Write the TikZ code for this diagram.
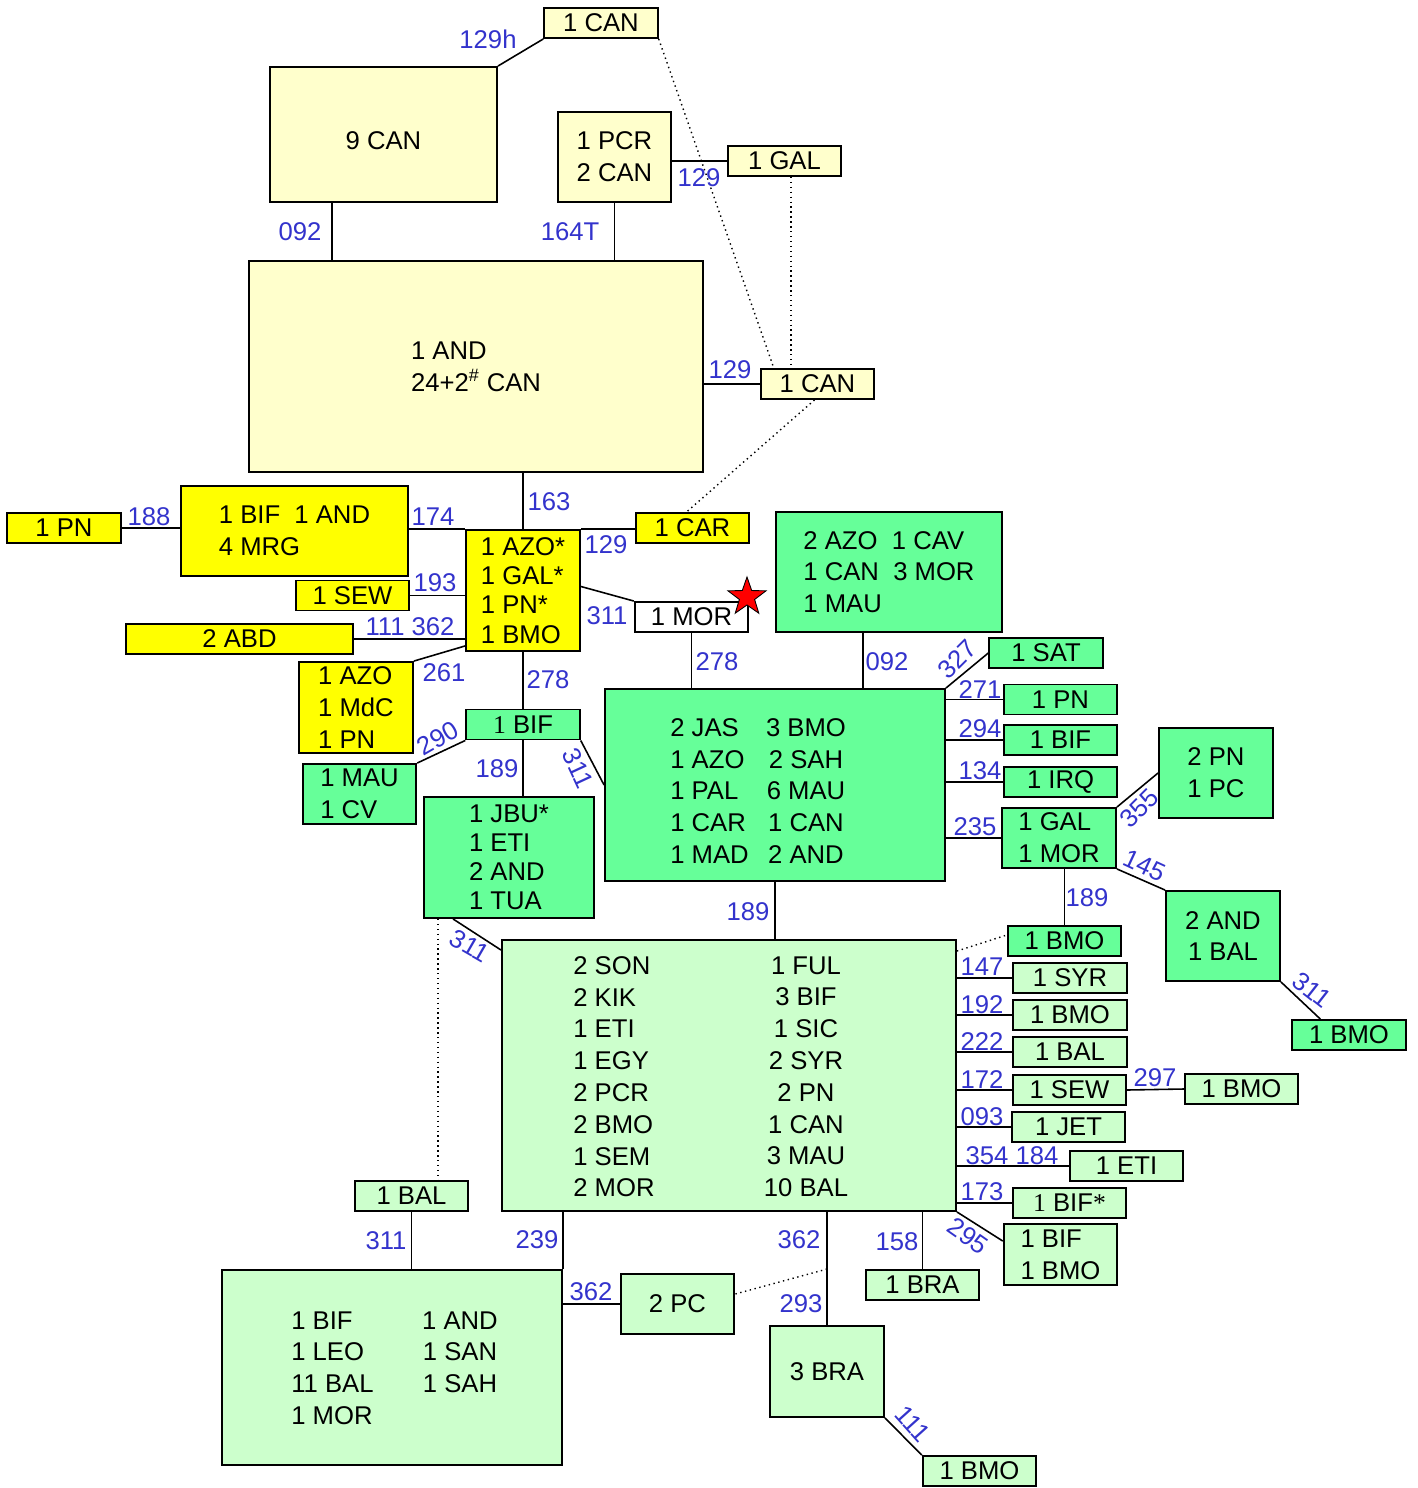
\documentclass[tikz,border=0pt]{standalone}
\usepackage{fontspec}
\setmainfont{Liberation Sans}
\newfontfamily\serone{Liberation Serif}
\usetikzlibrary{calc,shapes.geometric}
\definecolor{paleyellow}{HTML}{FFFFCC}
\definecolor{brightyellow}{HTML}{FFFF00}
\definecolor{midgreen}{HTML}{66FF99}
\definecolor{palegreen}{HTML}{CCFFCC}
\definecolor{numblue}{HTML}{3333CC}
\newcommand{\boxfont}{\fontsize{14.6pt}{18.1pt}\selectfont}
\newcommand{\tightfont}{\fontsize{14.6pt}{16.6pt}\selectfont}
\tikzset{
  box/.style={draw, line width=1.1pt, inner sep=0pt, align=center, font=\boxfont},
  pybox/.style={box, fill=paleyellow},
  ybox/.style={box, fill=brightyellow},
  wbox/.style={box, fill=white},
  gbox/.style={box, fill=midgreen},
  pgbox/.style={box, fill=palegreen},
  sm/.style={minimum width=2.27cm, minimum height=0.6cm},
  txt/.style={inner sep=0pt, font=\boxfont},
  lbl/.style={text=numblue, inner sep=0pt, font=\boxfont},
  link/.style={line width=0.9pt},
  dots/.style={dotted, line width=0.8pt},
}
\begin{document}
\begin{tikzpicture}[x=0.02cm, y=-0.02cm]
\useasboundingbox (0,0) rectangle (1417,1488);

% pale yellow boxes at the top
\node[pybox, sm] (canTop) at (601,23) {1 CAN};
\node[pybox, minimum width=4.54cm, minimum height=2.7cm] (nineCan) at (383.5,134.5) {\raisebox{-0.12cm}[\height][\depth]{9 CAN}};
\node[pybox, minimum width=2.26cm, minimum height=1.8cm] (pcr) at (614.5,157) {1 PCR\\2 CAN};
\node[pybox, sm] (gal) at (784.5,161) {1 GAL};
\node[pybox, align=left, minimum width=9.08cm, minimum height=4.22cm] (andCan) at (476,366.5) {1 AND\\24+2\textsuperscript{\#} CAN};
\node[pybox, sm] (canR) at (817.5,384) {1 CAN};

% yellow boxes
\node[ybox, sm] (car) at (692.5,528) {1 CAR};
\node[ybox, sm] (pnL) at (64,528) {1 PN};
\node[ybox, align=left, minimum width=4.54cm, minimum height=1.8cm] (bifAnd) at (294.5,531) {1 BIF\ \ 1 AND\\4 MRG};
\node[ybox, align=left, font=\tightfont, minimum width=2.28cm, minimum height=2.42cm] (azo) at (523,590.5) {1 AZO*\\1 GAL*\\1 PN*\\1 BMO};
\node[ybox, sm] (sew) at (352.5,595.5) {1 SEW};
\node[ybox, minimum width=4.54cm, minimum height=0.6cm] (abd) at (239.5,639) {2 ABD};
\node[ybox, align=left, minimum width=2.28cm, minimum height=1.82cm] (azoMdc) at (356,707.5) {1 AZO\\1 MdC\\1 PN};
\node[wbox, sm] (mor) at (691.5,617) {1 MOR};
\node[star, star points=5, star point ratio=2.5, fill=red, draw=black, line width=0.5pt, inner sep=0pt, minimum size=0.8cm] (redStar) at (747,597) {};

% green boxes
\node[gbox, align=left, minimum width=4.52cm, minimum height=2.4cm] (azoCav) at (889,572) {2 AZO\ \ 1 CAV\\1 CAN\ \ 3 MOR\\1 MAU};
\node[gbox, sm] (sat) at (1046,653) {1 SAT};
\node[gbox, minimum width=6.8cm, minimum height=3.84cm] (jas) at (775,785) {};
\node[txt, anchor=north west, align=left] (jasLeft) at (670,718) {2 JAS\\1 AZO\\1 PAL\\1 CAR\\1 MAD};
\node[txt, anchor=north, align=center] (jasRight) at (806,718) {3 BMO\\2 SAH\\6 MAU\\1 CAN\\2 AND};
\node[gbox, sm] (pnR) at (1060.5,699.5) {1 PN};
\node[gbox, sm] (bifR) at (1060.5,740) {1 BIF};
\node[gbox, sm] (irq) at (1060.5,782) {1 IRQ};
\node[gbox, align=left, minimum width=2.28cm, minimum height=1.2cm] (galMor) at (1059,838) {1 GAL\\1 MOR};
\node[gbox, minimum width=2.28cm, minimum height=1.8cm] (pnPc) at (1216,773) {2 PN\\1 PC};
\node[gbox, minimum width=2.28cm, minimum height=1.8cm] (andBal) at (1223,936) {2 AND\\1 BAL};
\node[gbox, sm] (bmoF) at (1349,1035) {1 BMO};
\node[gbox, sm] (bifG) at (523,724.5) {{\serone 1} BIF};
\node[gbox, align=left, sm, minimum height=1.2cm] (mauCv) at (359.5,794) {1 MAU\\1 CV};
\node[gbox, align=left, font=\tightfont, minimum width=3.4cm, minimum height=2.42cm] (jbu) at (509,857.5) {1 JBU*\\1 ETI\\2 AND\\1 TUA};
\node[gbox, sm] (bmoG) at (1064.5,941) {1 BMO};

% pale green boxes
\node[pgbox, minimum width=9.08cm, minimum height=5.42cm] (son) at (729,1075.5) {};
\node[txt, anchor=north west, align=left] (sonLeft) at (573,956) {2 SON\\2 KIK\\1 ETI\\1 EGY\\2 PCR\\2 BMO\\1 SEM\\2 MOR};
\node[txt, anchor=north, align=center] (sonRight) at (806,956) {1 FUL\\3 BIF\\1 SIC\\2 SYR\\2 PN\\1 CAN\\3 MAU\\10 BAL};
\node[pgbox, sm] (syr) at (1070,978) {1 SYR};
\node[pgbox, sm] (bmoS) at (1070,1015) {1 BMO};
\node[pgbox, sm] (balS) at (1070,1052) {1 BAL};
\node[pgbox, sm] (sewS) at (1069.5,1090) {1 SEW};
\node[pgbox, sm] (bmoW) at (1241.5,1089) {1 BMO};
\node[pgbox, sm] (jet) at (1068.5,1127) {1 JET};
\node[pgbox, sm] (eti) at (1126.5,1166) {1 ETI};
\node[pgbox, sm] (bifStar) at (1069.5,1203) {{\serone 1} BIF{\serone *}};
\node[pgbox, align=left, sm, minimum height=1.22cm] (bifBmo) at (1060.5,1254.5) {1 BIF\\1 BMO};
\node[pgbox, sm] (braS) at (922.5,1285) {1 BRA};
\node[pgbox, minimum width=2.28cm, minimum height=1.82cm] (braL) at (827,1371.5) {3 BRA};
\node[pgbox, sm] (bmoL) at (979.5,1471) {1 BMO};
\node[pgbox, sm, minimum height=1.2cm] (pc) at (677.5,1304) {2 PC};
\node[pgbox, sm] (balL) at (411.5,1196) {1 BAL};
\node[pgbox, minimum width=6.8cm, minimum height=3.9cm] (leo) at (392,1367.5) {};
\node[txt, anchor=north west, align=left] (leoLeft) at (291,1311) {1 BIF\\1 LEO\\11 BAL\\1 MOR};
\node[txt, anchor=north, align=center] (leoRight) at (460,1311) {1 AND\\1 SAN\\1 SAH};

% links
\draw[link] (nineCan.north east) -- (canTop.south west);
\draw[link] (332,0 |- nineCan.south) -- (332,0 |- andCan.north);
\draw[link] (pcr.south) -- (pcr.south |- andCan.north);
\draw[link] (pcr.east |- gal.west) -- (gal.west);
\draw[link] (andCan.east |- canR.west) -- (canR.west);
\draw[link] (azo.north |- andCan.south) -- (azo.north);
\draw[link] (pnL.east) -- (pnL.east -| bifAnd.west);
\draw[link] (bifAnd.east |- azo.north west) -- (azo.north west);
\draw[link] (sew.east) -- (sew.east -| azo.west);
\draw[link] (abd.east) -- (abd.east -| azo.west);
\draw[link] (azoMdc.north east) -- ($(azo.south west)+(0,-6)$);
\draw[link] (azo.north east) -- (azo.north east -| car.west);
\draw[link] ([yshift=0.08cm]azo.east) -- (mor.north west);
\draw[link] (azo.south) -- (bifG.north);
\draw[link] (mor.south) -- (mor.south |- jas.north);
\draw[link] (863,0 |- azoCav.south) -- (863,0 |- jas.north);
\draw[link] (jas.north east) -- (sat.west);
\draw[link] (jas.east |- pnR.west) -- (pnR.west);
\draw[link] (jas.east |- bifR.west) -- (bifR.west);
\draw[link] (jas.east |- irq.west) -- (irq.west);
\draw[link] (jas.east |- galMor.west) -- (galMor.west);
\draw[link] (galMor.north east) -- (pnPc.west);
\draw[link] (galMor.south east) -- (andBal.north west);
\draw[link] (andBal.south east) -- ($(bmoF.north west)+(29,0)$);
\draw[link] (bmoG.north |- galMor.south) -- (bmoG.north);
\draw[link] (bifG.south west) -- (mauCv.north east);
\draw[link] (bifG.south) -- (bifG.south |- jbu.north);
\draw[link] (bifG.south east) -- (jas.west);
\draw[link] ($(jbu.south west)+(30,0)$) -- ($(son.north west)+(0,11)$);
\draw[link] (jas.south) -- (jas.south |- son.north);
\draw[link] (son.east |- syr.west) -- (syr.west);
\draw[link] (son.east |- bmoS.west) -- (bmoS.west);
\draw[link] (son.east |- balS.west) -- (balS.west);
\draw[link] (son.east |- sewS.west) -- (sewS.west);
\draw[link] (sewS.east) -- (bmoW.west);
\draw[link] (son.east |- jet.west) -- (jet.west);
\draw[link] (son.east |- eti.west) -- (eti.west);
\draw[link] (son.east |- bifStar.west) -- (bifStar.west);
\draw[link] (son.south east) -- ($(bifBmo.north west)+(0,18)$);
\draw[link] (braS.north |- son.south) -- (braS.north);
\draw[link] (braL.north |- son.south) -- (braL.north);
\draw[link] (braL.south east) -- (bmoL.north west);
\draw[link] (leo.north east |- son.south) -- (leo.north east);
\draw[link] (leo.east |- pc.west) -- (pc.west);
\draw[link] (balL.south) -- (balL.south |- leo.north);

% dotted links
\draw[dots] (canTop.south east) -- ($(canR.north west)+(14,0)$);
\draw[dots] (791,0 |- gal.south) -- (791,0 |- canR.north);
\draw[dots] ($(canR.south)+(-3,0)$) -- ($(car.north)+(-6,0)$);
\draw[dots] ($(son.north east)+(0,12)$) -- ($(bmoG.west)+(0,-6)$);
\draw[dots] ($(braL.north)+(0,-56)$) -- ($(pc.east)+(0,-10)$);
\draw[dots] (438,0 |- jbu.south) -- (438,0 |- balL.north);

% labels
\node[lbl] (n129h) at (488,39) {129h};
\node[lbl] (n092a) at (300,232) {092};
\node[lbl] (n164T) at (570,232) {164T};
\node[lbl] (n129a) at (699,178) {129};
\node[lbl] (n129b) at (730,370) {129};
\node[lbl] (n188) at (149,517) {188};
\node[lbl] (n174) at (433,517) {174};
\node[lbl] (n163) at (549,502) {163};
\node[lbl] (n193) at (435,583) {193};
\node[lbl] (n111a) at (410,627) {111 362};
\node[lbl] (n261) at (444,673) {261};
\node[lbl] (n129c) at (606,545) {129};
\node[lbl] (n311a) at (607,616) {311};
\node[lbl] (n278a) at (548,680) {278};
\node[lbl] (n278b) at (717,662) {278};
\node[lbl] (n092b) at (887,662) {092};
\node[lbl, rotate=45] (n327) at (957,659) {327};
\node[lbl] (n271) at (980,690) {271};
\node[lbl] (n294) at (980,729) {294};
\node[lbl] (n134) at (980,771) {134};
\node[lbl] (n235) at (975,827) {235};
\node[lbl, rotate=45] (n355) at (1139,808) {355};
\node[lbl, rotate=-25] (n145) at (1145,866) {145};
\node[lbl] (n189a) at (1087,898) {189};
\node[lbl, rotate=-38] (n311b) at (1312,990) {311};
\node[lbl, rotate=30] (n290) at (438,738) {290};
\node[lbl] (n189b) at (497,769) {189};
\node[lbl, rotate=-65] (n311c) at (578,768) {311};
\node[lbl, rotate=-30] (n311d) at (470,946) {311};
\node[lbl] (n189c) at (748,912) {189};
\node[lbl] (n147) at (982,967) {147};
\node[lbl] (n192) at (982,1005) {192};
\node[lbl] (n222) at (982,1042) {222};
\node[lbl] (n172) at (982,1080) {172};
\node[lbl] (n297) at (1155,1078) {297};
\node[lbl] (n093) at (982,1117) {093};
\node[lbl] (n354) at (1012,1156) {354 184};
\node[lbl] (n173) at (982,1192) {173};
\node[lbl, rotate=-35] (n295) at (968,1236) {295};
\node[lbl] (n158) at (897,1242) {158};
\node[lbl] (n362a) at (799,1240) {362};
\node[lbl] (n293) at (801,1304) {293};
\node[lbl] (n239) at (537,1240) {239};
\node[lbl] (n362b) at (591,1292) {362};
\node[lbl] (n311e) at (386,1241) {311};
\node[lbl, rotate=-48] (n111b) at (913,1424) {111};
\end{tikzpicture}
\end{document}
